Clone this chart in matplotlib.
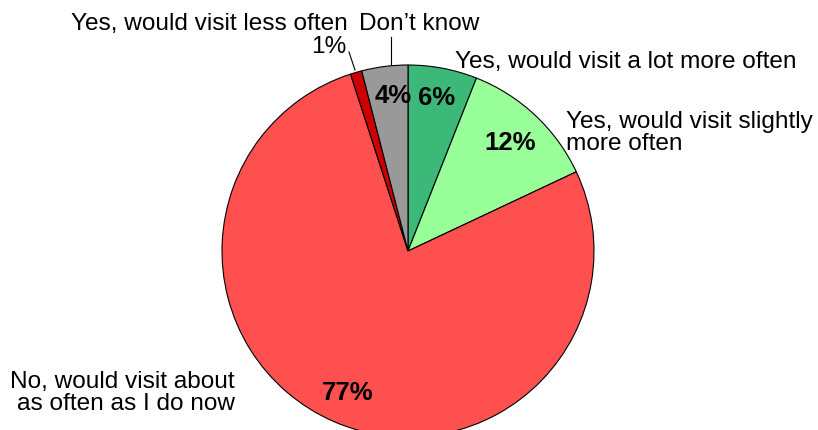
import matplotlib
matplotlib.use("Agg")
import matplotlib.pyplot as plt

categories = ["Yes, would visit a lot more often",
              "Yes, would visit slightly\nmore often",
              "No, would visit about\nas often as I do now",
              "Yes, would visit less often",
              "Don\u2019t know"]
values = [6, 12, 77, 1, 4]
colors = ["#3CB878", "#99FF99", "#FF5050", "#CC0000", "#999999"]

W, H = 818, 430
fig = plt.figure(figsize=(W / 100, H / 100), dpi=100)
ax = fig.add_axes([0, 0, 1, 1])

def py(y):
    return H - y

cx, cy, r = 408, 251, 186
ax.pie(values, colors=colors, startangle=90, counterclock=False,
       center=(cx, py(cy)), radius=r, frame=True,
       wedgeprops=dict(edgecolor="black", linewidth=0.8))
ax.set_xlim(0, W)
ax.set_ylim(0, H)
ax.set_aspect("equal")
ax.axis("off")

font = "Liberation Sans"
lab_fs = 17.6
pct_fs = 18.5

# percentage labels (pixel positions)
pct_pos = [(437, 98), (510, 143), (348, 393), (329, 47), (393, 96)]
for i, (v, (x, y)) in enumerate(zip(values, pct_pos)):
    bold = "bold" if i != 3 else "normal"
    fs = pct_fs if i != 3 else lab_fs
    ax.text(x, py(y), f"{v}%", ha="center", va="center", fontsize=fs,
            fontweight=bold, family=font, color="black")

# category labels
lab_spec = [
    (455, 62, "left"),
    (566, 133, "left"),
    (235, 393, "right"),
    (348, 24, "right"),
    (419, 24, "center"),
]
for text, (x, y, ha) in zip(categories, lab_spec):
    ax.text(x, py(y), text, ha=ha, va="center", fontsize=lab_fs,
            family=font, color="black", linespacing=0.98,
            multialignment=ha if ha != "center" else "center")

# leader lines
ax.plot([349, 355], [py(52), py(70)], color="black", lw=0.8)
ax.plot([391, 391], [py(37), py(64)], color="black", lw=0.8)

fig.savefig("out.png", dpi=100, facecolor="white")
